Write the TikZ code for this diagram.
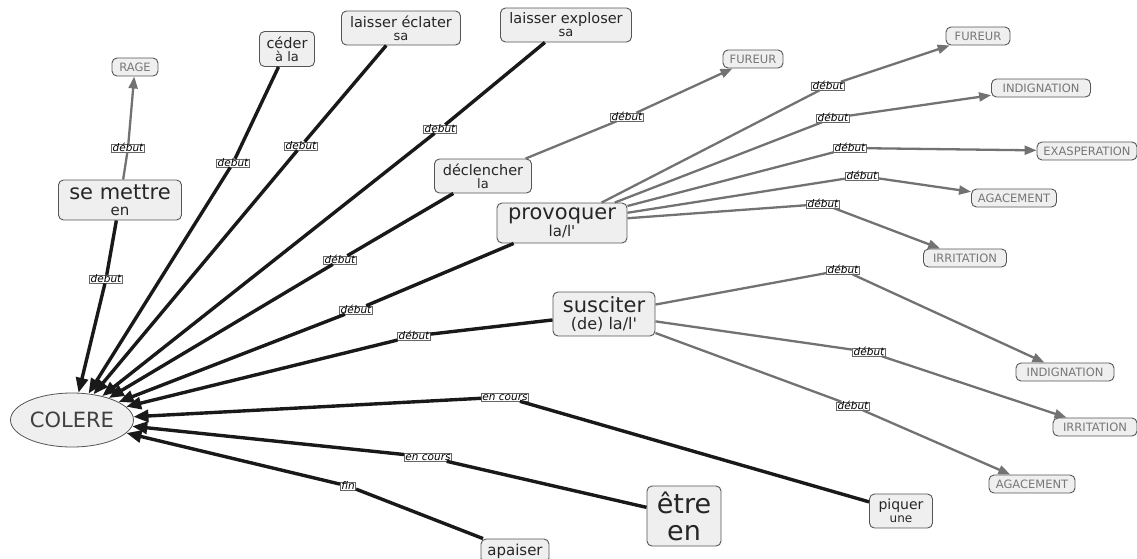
\documentclass[tikz,border=0pt]{standalone}
\usepackage{fontspec}
\setmainfont{DejaVu Sans}[Ligatures=TeXOff]
\usetikzlibrary{arrows.meta,shapes.geometric}
\definecolor{nodefill}{HTML}{EFEFEF}
\definecolor{nodeline}{HTML}{555555}
\definecolor{linkgray}{HTML}{727272}
\definecolor{captext}{HTML}{777777}
\tikzset{
  concept/.style={draw=nodeline, fill=nodefill, rounded corners=5pt, line width=0.9pt, align=center, inner sep=0pt, text=black!85},
  emo/.style={draw=nodeline, fill=nodefill, rounded corners=5pt, line width=0.9pt, inner sep=0pt, text=captext, font=\fontsize{11.5}{12}\selectfont, minimum height=18pt},
  lab/.style={draw=black!60, fill=white, line width=0.6pt, inner xsep=1pt, inner ysep=0pt, font=\itshape\fontsize{10.5}{10}\selectfont, text height=7pt, text depth=1pt},
  blk/.style={draw=black!90, line width=3.4pt},
  blkarr/.style={blk, -{Triangle[length=15pt,width=12pt]}},
  gry/.style={draw=linkgray, line width=2.3pt},
  gryarr/.style={gry, -{Triangle[length=12pt,width=9pt]}},
}
\newcommand\fs[2]{\fontsize{#1}{#2}\selectfont\lineskiplimit=-50pt\relax}
\begin{document}
\begin{tikzpicture}[x=1pt,y=-1pt]
\useasboundingbox (0,0) rectangle (1137,558);
% main node
\node[ellipse, draw=nodeline, fill=nodefill, line width=0.8pt, minimum width=123pt, minimum height=54pt, inner sep=0pt, font=\fontsize{21}{21}\selectfont, text=black!75] (colere) at (72,420) {COLERE};
% concept nodes
\node[concept, minimum width=123pt, minimum height=40pt, font=\fs{21}{16}] (semettre) at (120,200) {se mettre\\{\fontsize{15}{15}\selectfont en}};
\node[concept, minimum width=55pt, minimum height=35pt, font=\fs{14.5}{13}] (ceder) at (287,49) {céder\\{\fontsize{13}{13}\selectfont à la}};
\node[concept, minimum width=119pt, minimum height=34pt, font=\fs{14.5}{13}] (eclater) at (401,28) {laisser éclater\\{\fontsize{13}{13}\selectfont sa}};
\node[concept, minimum width=131pt, minimum height=34pt, font=\fs{14.5}{13}] (exploser) at (566,25) {laisser exploser\\{\fontsize{13}{13}\selectfont sa}};
\node[concept, minimum width=97pt, minimum height=34pt, font=\fs{14.5}{13}] (declencher) at (483,176) {déclencher\\{\fontsize{13}{13}\selectfont la}};
\node[concept, minimum width=130pt, minimum height=40pt, font=\fs{21}{17}] (provoquer) at (562,223) {provoquer\\{\fontsize{15}{15}\selectfont la/l'}};
\node[concept, minimum width=102pt, minimum height=44pt, font=\fs{21}{17}] (susciter) at (604,314) {susciter\\{\fontsize{16}{16}\selectfont (de) la/l'}};
\node[concept, minimum width=63pt, minimum height=34pt, font=\fs{14}{13}] (piquer) at (901,511) {piquer\\{\fontsize{12}{12}\selectfont une}};
\node[concept, minimum width=74pt, minimum height=60pt, font=\fs{27}{27}] (etre) at (684,516) {être\\en};
\node[concept, minimum width=68pt, minimum height=24pt, font=\fontsize{15}{15}\selectfont] (apaiser) at (515,551) {apaiser};
% emotion nodes
\node[emo, minimum width=46pt] (rage) at (135,67) {RAGE};
\node[emo, minimum width=60pt] (fureurA) at (753,59) {FUREUR};
\node[emo, minimum width=64pt] (fureurB) at (978,36) {FUREUR};
\node[emo, minimum width=99pt] (indigA) at (1041,88) {INDIGNATION};
\node[emo, minimum width=100pt] (exasp) at (1087,151) {EXASPERATION};
\node[emo, minimum width=85pt] (agacA) at (1014,198) {AGACEMENT};
\node[emo, minimum width=83pt] (irritA) at (965,258) {IRRITATION};
\node[emo, minimum width=98pt] (indigB) at (1065,372) {INDIGNATION};
\node[emo, minimum width=84pt] (irritB) at (1095,427) {IRRITATION};
\node[emo, minimum width=86pt] (agacB) at (1032,484) {AGACEMENT};
% link labels
\node[lab] (l1) at (128,148) {début\hspace{5pt}};
\node[lab] (l2) at (106,279) {debut\hspace{5pt}};
\node[lab] (l3) at (233,163) {debut\hspace{5pt}};
\node[lab] (l4) at (301,146) {debut\hspace{5pt}};
\node[lab] (l5) at (440,129) {debut\hspace{5pt}};
\node[lab] (l6) at (340,260) {début\hspace{5pt}};
\node[lab] (l7) at (356,310) {début\hspace{5pt}};
\node[lab] (l8) at (414,336) {début\hspace{5pt}};
\node[lab] (l9) at (505,397) {en cours\hspace{5pt}};
\node[lab] (l10) at (428,457) {en cours\hspace{5pt}};
\node[lab] (l11) at (348,486) {fin\hspace{8pt}};
\node[lab] (l12) at (627,117) {début\hspace{5pt}};
\node[lab] (l13) at (828,86) {début\hspace{5pt}};
\node[lab] (l14) at (833,118) {début\hspace{5pt}};
\node[lab] (l15) at (850,148) {début\hspace{5pt}};
\node[lab] (l16) at (862,176) {début\hspace{5pt}};
\node[lab] (l17) at (823,204) {début\hspace{5pt}};
\node[lab] (l18) at (843,270) {début\hspace{5pt}};
\node[lab] (l19) at (869,352) {début\hspace{5pt}};
\node[lab] (l20) at (853,406) {début\hspace{5pt}};
% black links into COLERE
\foreach \s/\l in {semettre/l2, ceder/l3, eclater/l4, exploser/l5, declencher/l6, provoquer/l7, susciter/l8, piquer/l9, etre/l10, apaiser/l11}{
  \draw[blk] (\s) -- (\l);
  \draw[blkarr] (\l) -- (colere);
}
% gray links
\foreach \s/\l/\t in {semettre/l1/rage, declencher/l12/fureurA, provoquer/l13/fureurB, provoquer/l14/indigA, provoquer/l15/exasp, provoquer/l16/agacA, provoquer/l17/irritA, susciter/l18/indigB, susciter/l19/irritB, susciter/l20/agacB}{
  \draw[gry] (\s) -- (\l);
  \draw[gryarr] (\l) -- (\t);
}
\end{tikzpicture}
\end{document}
